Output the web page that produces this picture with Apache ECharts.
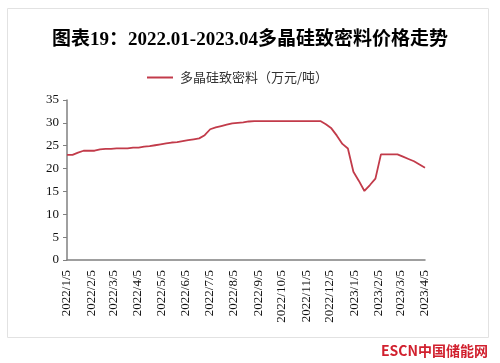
<!DOCTYPE html>
<html>
<head>
<meta charset="utf-8">
<script src="https://cdn.jsdelivr.net/npm/echarts@6/dist/echarts.min.js"></script>
<style>
html,body{margin:0;padding:0;background:#fff;}
#chart{width:500px;height:363px;}
</style>
</head>
<body>
<div id="chart"></div>
<script>
// Weekly observation dates (every Wednesday) and prices (万元/吨)
var startDate = '2022/1/5';
var endDate = '2023/4/5';
var weeklyValues = [
  23.0, 23.0, 23.5, 23.9, 23.9, 23.9, 24.2, 24.3, 24.3, 24.4,
  24.4, 24.4, 24.6, 24.6, 24.8, 24.9, 25.1, 25.3, 25.5, 25.7,
  25.8, 26.0, 26.2, 26.4, 26.6, 27.3, 28.6, 29.0, 29.3, 29.6,
  29.9, 30.0, 30.1, 30.3, 30.4, 30.4, 30.4, 30.4, 30.4, 30.4,
  30.4, 30.4, 30.4, 30.4, 30.4, 30.4, 30.4, 29.7, 28.8, 27.2,
  25.4, 24.4, 19.3, 17.3, 15.1, 16.4, 17.8, 23.1, 23.1, 23.1,
  23.1, 22.6, 22.1, 21.6, 20.9, 20.2
];
var seriesName = '多晶硅致密料（万元/吨）';
var titleText = '图表19：2022.01-2023.04多晶硅致密料价格走势';
var yTicks = [0, 5, 10, 15, 20, 25, 30, 35];

function fmt(d){ return d.getFullYear() + '/' + (d.getMonth()+1) + '/' + d.getDate(); }
function parse(s){ var p = s.split('/'); return new Date(+p[0], +p[1]-1, +p[2]); }

// daily category axis
var days = [];
var d0 = parse(startDate), d1 = parse(endDate);
for (var d = new Date(d0); d <= d1; d.setDate(d.getDate()+1)) days.push(fmt(d));

var seriesData = weeklyValues.map(function(v, i){
  var d = new Date(d0); d.setDate(d.getDate() + 7*i);
  return [fmt(d), v];
});

var serif = '"Liberation Serif", "Times New Roman", "Noto Sans CJK SC", serif';
var chart = echarts.init(document.getElementById('chart'), null, {renderer:'canvas'});
chart.setOption({
  animation: false,
  backgroundColor: '#fff',
  title: {
    text: titleText,
    left: 'center',
    top: 26,
    textStyle: {fontFamily: serif, fontWeight: 'bold', fontSize: 19, color: '#000'}
  },
  legend: {
    left: 142, top: 66,
    itemWidth: 26, itemHeight: 2, itemGap: 10,
    icon: 'rect',
    textStyle: {fontFamily: '"Noto Sans CJK SC", sans-serif', fontSize: 13, color: '#333', padding: [0,0,0,2]},
    data: [seriesName]
  },
  grid: {left: 67, right: 75, top: 100, bottom: 103},
  xAxis: {
    type: 'category',
    data: days,
    boundaryGap: false,
    axisLine: {lineStyle: {color: '#808080', width: 1.5}},
    axisTick: {show: false},
    axisLabel: {
      rotate: 90,
      interval: function(idx, val){ return /\/5$/.test(val); },
      fontFamily: serif, fontSize: 13, color: '#111', margin: 10
    },
    splitLine: {show: false}
  },
  yAxis: {
    type: 'value',
    min: yTicks[0], max: yTicks[yTicks.length-1], interval: 5,
    axisLine: {show: true, lineStyle: {color: '#808080', width: 1.5}},
    axisTick: {show: true, length: 4, lineStyle: {color: '#808080'}},
    axisLabel: {fontFamily: serif, fontSize: 13, color: '#111', margin: 8},
    splitLine: {show: false}
  },
  series: [{
    name: seriesName,
    type: 'line',
    data: seriesData,
    showSymbol: false,
    symbol: 'none',
    lineStyle: {color: '#C23B4A', width: 1.8},
    itemStyle: {color: '#C23B4A'}
  }],
  graphic: [
    {type: 'rect', shape: {x: 7.5, y: 8.5, width: 481, height: 329}, style: {fill: null, stroke: '#e2e2e2', lineWidth: 1}, silent: true, z: -1},
    {type: 'text', right: 12, top: 344, style: {text: 'ESCN中国储能网', font: 'bold 14px "Noto Sans CJK SC", sans-serif', fill: '#d1202e'}}
  ]
});
</script>
</body>
</html>
